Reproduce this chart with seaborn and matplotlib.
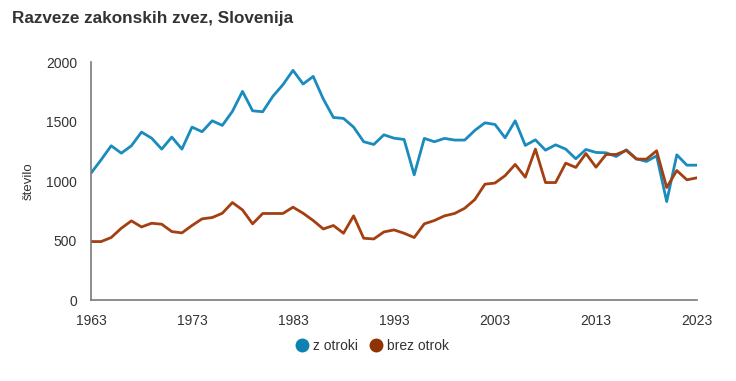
import numpy as np
import seaborn as sns
import pandas as pd
import matplotlib.pyplot as plt
from matplotlib.lines import Line2D
from matplotlib.ticker import MultipleLocator

years = list(range(1963, 2024))
z_otroki = [1066, 1178, 1296, 1234, 1296, 1411, 1360, 1268, 1369, 1268,
            1453, 1414, 1506, 1467, 1585, 1753, 1590, 1582, 1711, 1809,
            1930, 1815, 1879, 1689, 1534, 1526, 1453, 1330, 1307, 1388,
            1360, 1349, 1052, 1358, 1330, 1358, 1344, 1344, 1425, 1489,
            1475, 1363, 1506, 1299, 1346, 1259, 1304, 1268, 1187, 1265,
            1240, 1237, 1206, 1262, 1187, 1164, 1212, 827, 1220, 1133,
            1133]
brez_otrok = [491, 491, 525, 603, 665, 614, 645, 637, 575, 564,
              626, 682, 693, 729, 819, 757, 640, 727, 727, 727,
              780, 729, 668, 597, 626, 561, 707, 519, 513, 572,
              589, 561, 525, 640, 668, 707, 727, 771, 844, 973,
              983, 1045, 1139, 1032, 1268, 987, 987, 1150, 1114, 1231,
              1116, 1223, 1223, 1257, 1184, 1184, 1254, 945, 1088, 1010,
              1027]
series = ["z otroki", "brez otrok"]
colors = ["#1a8bbd", "#a33f10"]

df = pd.DataFrame({"leto": years * 2,
                   "število": z_otroki + brez_otrok,
                   "vrsta": [series[0]] * len(years) + [series[1]] * len(years)})

sns.set_style("white")
plt.rcParams['font.family'] = ['Liberation Sans', 'DejaVu Sans']

fig = plt.figure(figsize=(7.36, 3.81), dpi=100)
ax = fig.add_axes([91 / 736, 1 - 300 / 381, 606 / 736, 238 / 381])

sns.lineplot(data=df, x="leto", y="število", hue="vrsta", palette=colors,
             linewidth=2.0, legend=False, ax=ax)

ax.set_xlim(1963, 2023)
ax.set_ylim(0, 2000)
ax.set_xticks(range(1963, 2024, 10))
ax.xaxis.set_minor_locator(MultipleLocator(1))
ax.set_yticks(range(0, 2001, 500))

for side in ["top", "right"]:
    ax.spines[side].set_visible(False)
for side in ["left", "bottom"]:
    ax.spines[side].set_color("#7a7a7a")
    ax.spines[side].set_linewidth(1.2)

ax.tick_params(axis="both", which="both", direction="out", color="#9a9a9a",
               labelcolor="#333333", labelsize=10)
ax.tick_params(axis="x", which="both", length=5, width=0.8, pad=5)
ax.tick_params(axis="y", which="major", length=6, width=0.8, pad=4)
ax.tick_params(axis="x", which="minor", length=5)

ax.set_xlabel("")
ax.set_ylabel("število", fontsize=9.5, color="#333333", labelpad=8)

fig.text(12 / 736, 1 - 18 / 381, "Razveze zakonskih zvez, Slovenija",
         fontsize=12.3, fontweight="bold", color="#333333", va="center")

handles = [Line2D([], [], marker="o", linestyle="", markersize=9,
                  markerfacecolor=c, markeredgecolor=c) for c in ["#0f80b2", "#8f3304"]]
fig.legend(handles, series, loc="center", bbox_to_anchor=(372 / 736, 1 - 346 / 381),
           ncol=2, frameon=False, fontsize=10, handletextpad=0.3,
           columnspacing=0.8, handlelength=1.0, labelcolor="#333333")

fig.savefig("out.png", dpi=100)
